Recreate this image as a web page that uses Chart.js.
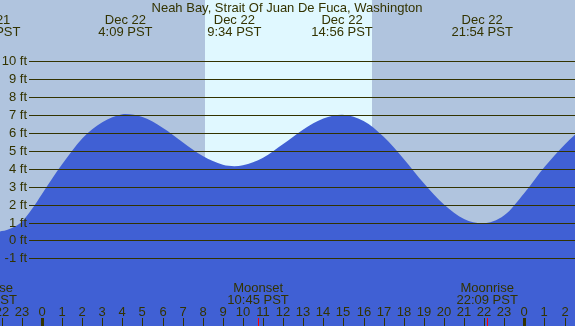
<!DOCTYPE html>
<html>
<head>
<meta charset="utf-8">
<script src="https://cdn.jsdelivr.net/npm/chart.js@4"></script>
<style>
  html, body { margin: 0; padding: 0; background: #b0c4de; }
  #wrap { width: 575px; height: 326px; }
</style>
</head>
<body>
<div id="wrap"><canvas id="tideChart" width="575" height="326"></canvas></div>
<script>
// tide curve (hours from midnight Dec 22, feet)
const hours   = [-3, -2.6, -2, -1.5, -1, -0.5, 0, 0.5, 1, 2, 3, 4, 4.15, 5, 6, 7, 8, 9, 9.57, 10, 11, 12, 13, 14, 14.93, 16, 17, 18, 19, 20, 21, 21.9, 23, 24, 25, 26, 27];
const heights = [0.47, 0.45, 0.52, 0.7, 1.05, 1.75, 2.6, 3.45, 4.25, 5.7, 6.6, 7.05, 7.06, 6.89, 6.30, 5.49, 4.71, 4.23, 4.15, 4.20, 4.62, 5.38, 6.20, 6.81, 7.02, 6.67, 5.79, 4.55, 3.19, 2.00, 1.19, 0.95, 1.4, 2.65, 4.1, 5.35, 6.4];

// high / low labels along the top
const tideTimes = [-2.6, 4.15, 9.57, 14.93, 21.9];
const tideDates = ["Dec 21", "Dec 22", "Dec 22", "Dec 22", "Dec 22"];
const tideLabels = ["21:25 PST", "4:09 PST", "9:34 PST", "14:56 PST", "21:54 PST"];

// moon events along the bottom
const moonTimes = [-2.78, 10.75, 22.15];
const moonNames = ["Moonrise", "Moonset", "Moonrise"];
const moonLabels = ["21:13 PST", "10:45 PST", "22:09 PST"];

// daylight band
const sunrise = 8.11;
const sunset = 16.42;

const feetTicks = [-1, 0, 1, 2, 3, 4, 5, 6, 7, 8, 9, 10];
const hourTicks = [-2, -1, 0, 1, 2, 3, 4, 5, 6, 7, 8, 9, 10, 11, 12, 13, 14, 15, 16, 17, 18, 19, 20, 21, 22, 23, 24, 25, 26];
const hourLabels = ["22", "23", "0", "1", "2", "3", "4", "5", "6", "7", "8", "9", "10", "11", "12", "13", "14", "15", "16", "17", "18", "19", "20", "21", "22", "23", "0", "1", "2"];

const title = "Neah Bay, Strait Of Juan De Fuca, Washington";

const SKY = "#b0c4de";
const DAY = "#e0f8ff";
const WATER = "#4060d4";
const INK = "#333300";
const FONT = "13px 'Liberation Sans'";

const tidePlugin = {
  id: "tidePlugin",
  beforeDraw(chart) {
    const ctx = chart.ctx;
    const xs = chart.scales.x;
    ctx.save();
    ctx.fillStyle = SKY;
    ctx.fillRect(0, 0, chart.width, chart.height);
    const x1 = xs.getPixelForValue(sunrise);
    const x2 = xs.getPixelForValue(sunset);
    ctx.fillStyle = DAY;
    ctx.fillRect(x1, 0, x2 - x1, chart.height);
    ctx.restore();
  },
  afterDatasetsDraw(chart) {
    const ctx = chart.ctx;
    const xs = chart.scales.x;
    const ys = chart.scales.y;
    ctx.save();

    // horizontal ft lines + labels
    ctx.strokeStyle = INK;
    ctx.lineWidth = 1;
    ctx.font = FONT;
    ctx.fillStyle = INK;
    ctx.textAlign = "right";
    ctx.textBaseline = "middle";
    feetTicks.forEach((ft) => {
      const y = Math.round(ys.getPixelForValue(ft)) + 0.5;
      ctx.beginPath();
      ctx.moveTo(29, y);
      ctx.lineTo(chart.width, y);
      ctx.stroke();
      ctx.fillText(ft + " ft", 27, y);
    });

    // title
    ctx.textAlign = "center";
    ctx.textBaseline = "alphabetic";
    ctx.fillText(title, 287, 12);

    // high/low labels
    tideTimes.forEach((t, i) => {
      const x = xs.getPixelForValue(t);
      ctx.fillText(tideDates[i], x, 24);
      ctx.fillText(tideLabels[i], x, 36);
    });

    // moon labels
    moonTimes.forEach((t, i) => {
      const x = xs.getPixelForValue(t);
      ctx.fillText(moonNames[i], x, 292);
      ctx.fillText(moonLabels[i], x, 304);
    });

    // hour labels and ticks
    hourTicks.forEach((h, i) => {
      const x = Math.round(xs.getPixelForValue(h));
      ctx.fillStyle = INK;
      ctx.fillText(hourLabels[i], x, 316);
      if (hourLabels[i] === "0") {
        ctx.fillRect(x - 1, 318, 3, 8);
      } else {
        ctx.fillRect(x, 318, 1, 8);
      }
    });

    // moon event ticks in red
    ctx.fillStyle = "#ff0000";
    moonTimes.forEach((t) => {
      const x = Math.round(xs.getPixelForValue(t));
      ctx.fillRect(x, 318, 1, 8);
    });

    ctx.restore();
  }
};

new Chart(document.getElementById("tideChart"), {
  type: "line",
  data: {
    datasets: [{
      data: hours.map((h, i) => ({ x: h, y: heights[i] })),
      backgroundColor: WATER,
      borderWidth: 0,
      pointRadius: 0,
      fill: "start",
      cubicInterpolationMode: "monotone"
    }]
  },
  options: {
    responsive: false,
    animation: false,
    events: [],
    layout: { padding: 0 },
    plugins: {
      legend: { display: false },
      tooltip: { enabled: false }
    },
    scales: {
      x: { type: "linear", min: -2.09, max: 26.52, display: false },
      y: { type: "linear", min: -4.78, max: 13.43, display: false }
    }
  },
  plugins: [tidePlugin]
});
</script>
</body>
</html>
